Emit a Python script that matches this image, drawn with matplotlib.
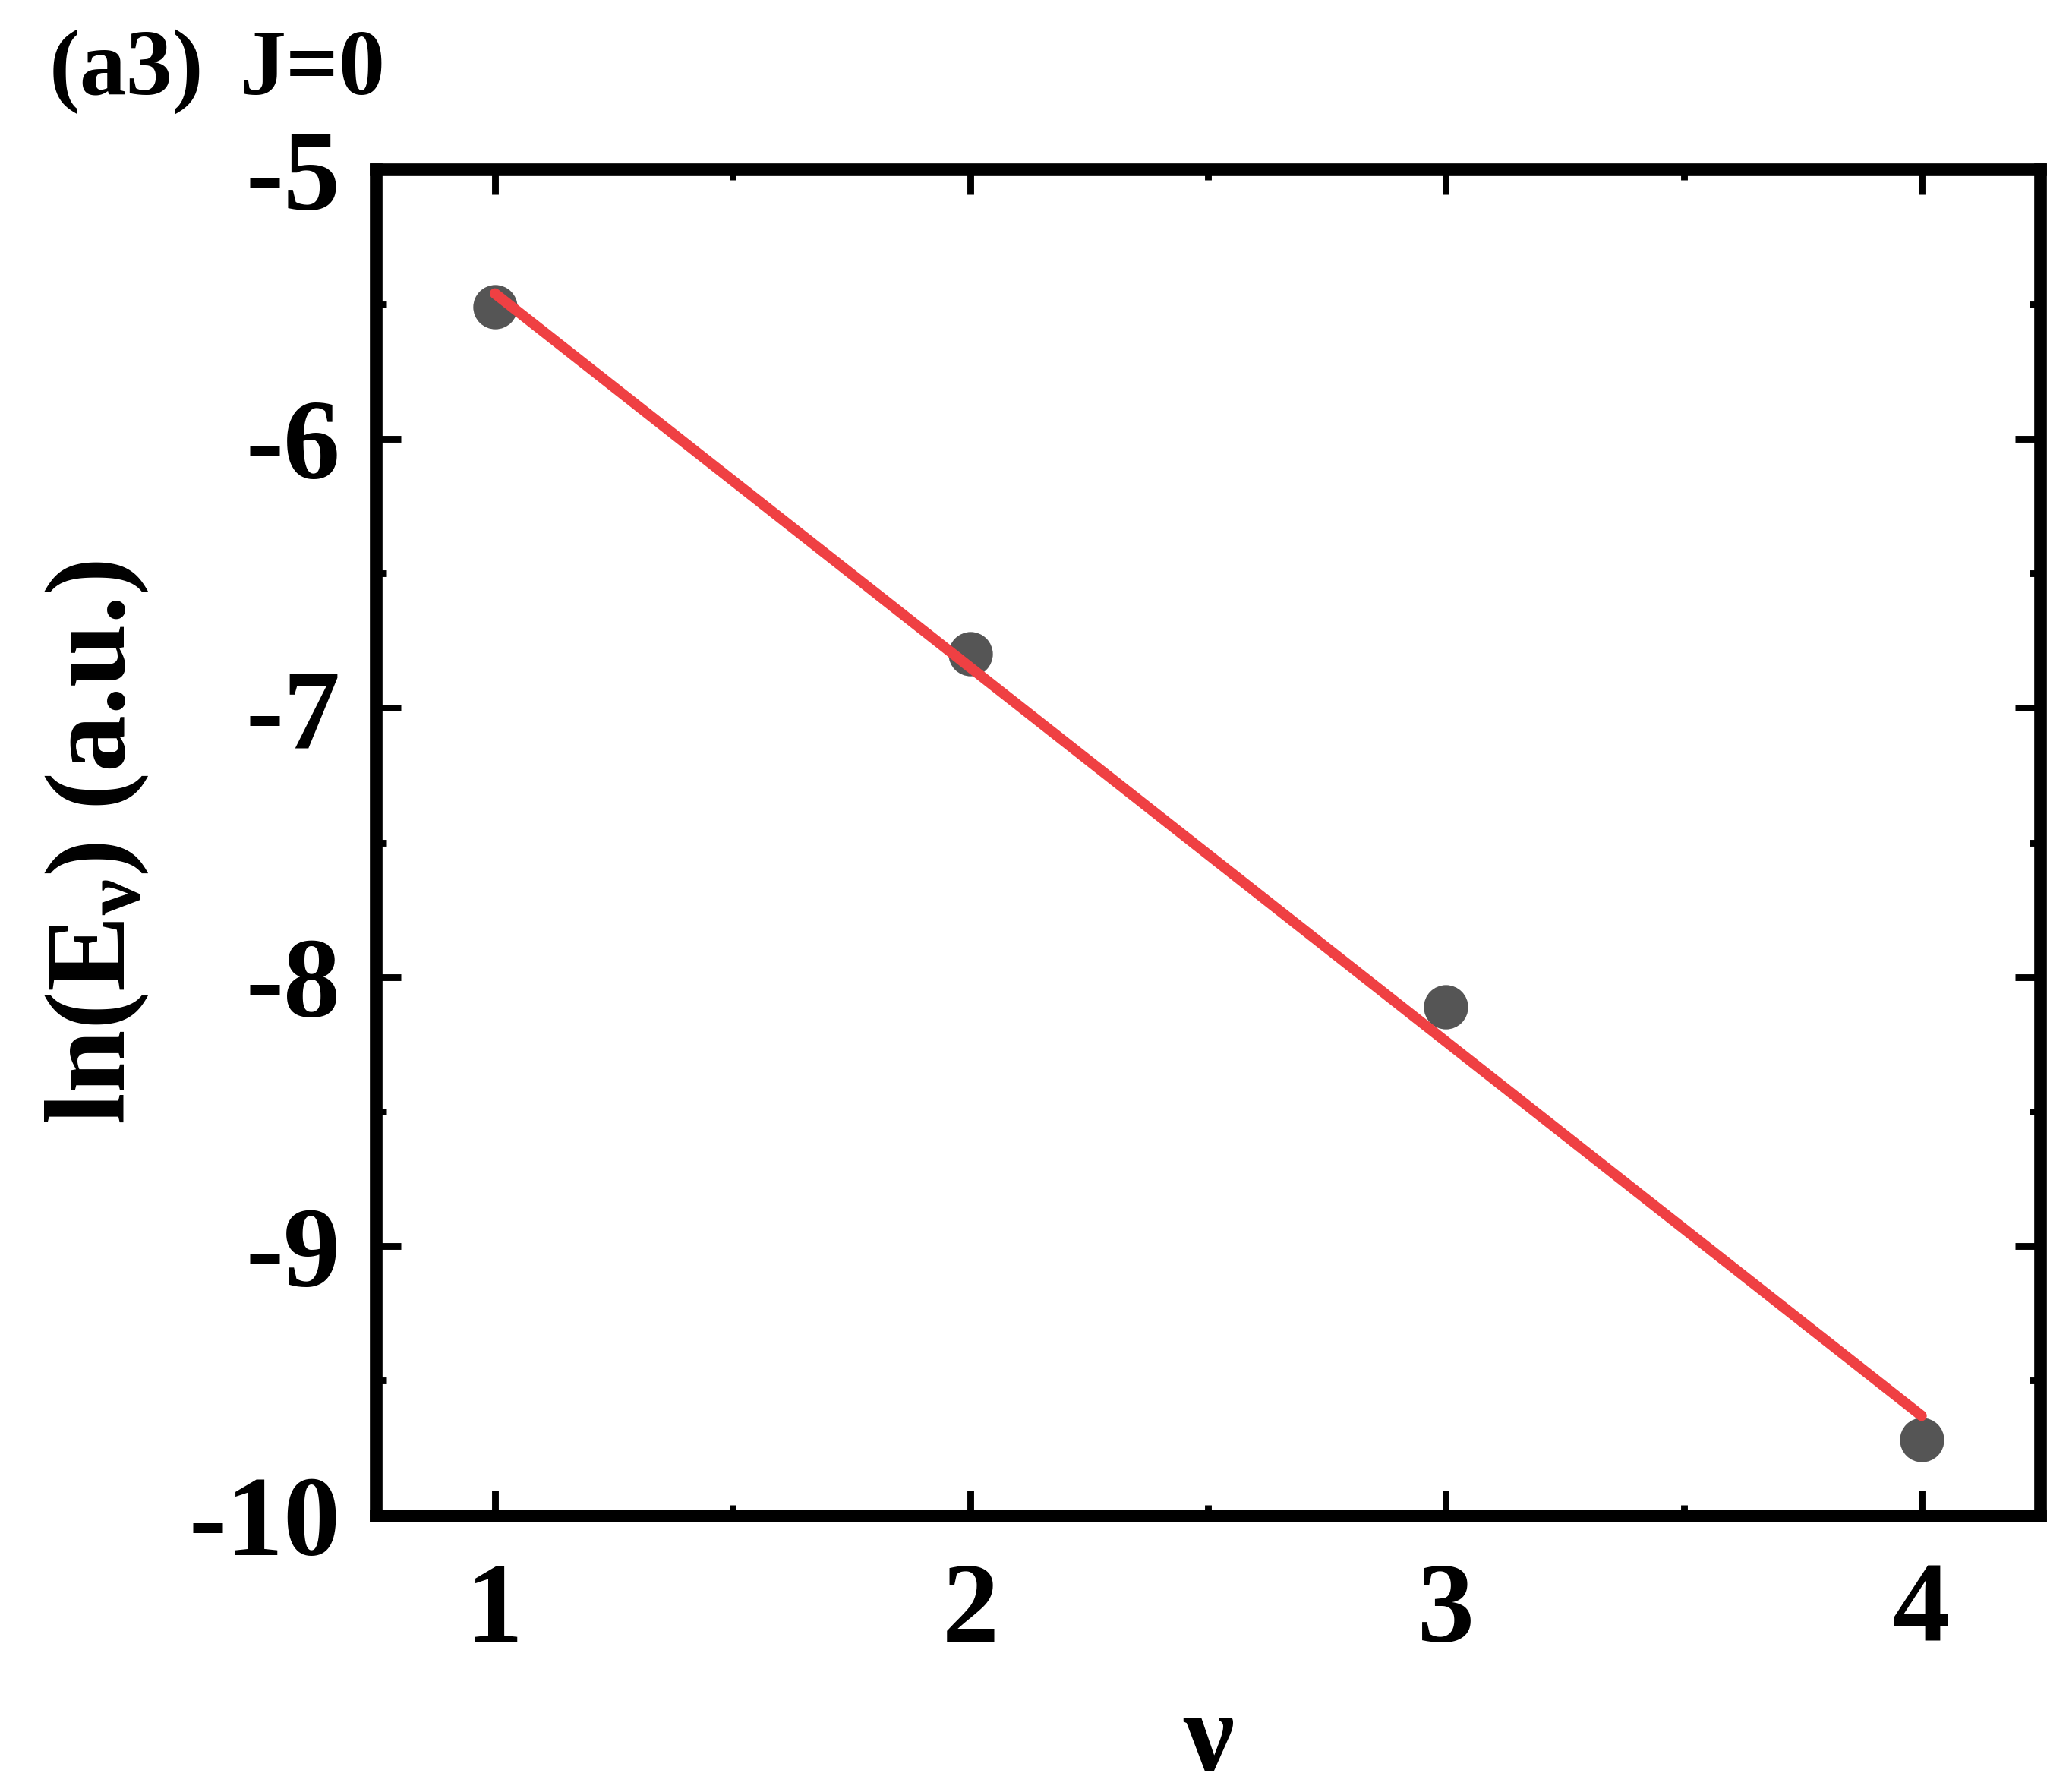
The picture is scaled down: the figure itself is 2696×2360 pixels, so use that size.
import numpy as np
import matplotlib
matplotlib.use('Agg')
import matplotlib.pyplot as plt
from matplotlib.ticker import MultipleLocator

# data
nu = [1, 2, 3, 4]
ln_E = [-5.51, -6.80, -8.11, -9.72]
fit_x = [1, 4]
fit_y = [-5.46, -9.63]

plt.rcParams['font.family'] = ['Liberation Serif', 'DejaVu Serif']
plt.rcParams['font.weight'] = 'bold'
plt.rcParams['axes.unicode_minus'] = False
plt.rcParams['mathtext.fontset'] = 'custom'
plt.rcParams['mathtext.rm'] = 'Liberation Serif:bold'
plt.rcParams['mathtext.it'] = 'Liberation Serif:bold'
plt.rcParams['mathtext.bf'] = 'Liberation Serif:bold'

fig = plt.figure(figsize=(13.48, 11.80), dpi=200)
ax = fig.add_axes([0.1837, 0.1544, 0.8131, 0.7509])

ax.plot(nu, ln_E, 'o', color='#555555', markersize=20, zorder=2)
ax.plot(fit_x, fit_y, '-', color='#EF4043', lw=5, solid_capstyle='round', zorder=3)

ax.set_xlim(0.75, 4.25)
ax.set_ylim(-10, -5)
ax.xaxis.set_major_locator(MultipleLocator(1))
ax.xaxis.set_minor_locator(MultipleLocator(0.5))
ax.yaxis.set_major_locator(MultipleLocator(1))
ax.yaxis.set_minor_locator(MultipleLocator(0.5))

for s in ax.spines.values():
    s.set_linewidth(6)
ax.tick_params(which='both', direction='in', top=True, right=True, width=3.2)
ax.tick_params(which='major', length=12, labelsize=54)
ax.tick_params(which='minor', length=5)
ax.tick_params(axis='x', pad=22)
ax.tick_params(axis='y', pad=17)
for lab in ax.get_xticklabels() + ax.get_yticklabels():
    lab.set_fontweight('bold')

ax.set_xlabel('ν', fontsize=54, fontweight='bold', labelpad=12)
ax.set_ylabel(r'ln(E$_\nu$) (a.u.)', fontsize=54, fontweight='bold', labelpad=18)

fig.text(0.024, 0.9476, '(a3)', fontsize=44, fontweight='bold', va='baseline')
fig.text(0.117, 0.9476, 'J=0', fontsize=44, fontweight='bold', va='baseline')

fig.savefig('out.png', dpi=200)
